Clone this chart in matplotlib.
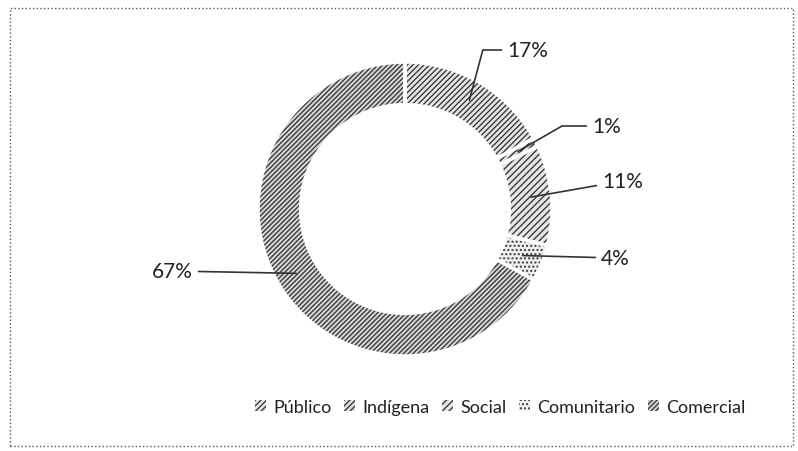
import numpy as np
import matplotlib.pyplot as plt
from matplotlib.patches import Rectangle

categorias = ['Público', 'Indígena', 'Social', 'Comunitario', 'Comercial']
porcentajes = [17, 1, 11, 4, 67]
etiquetas = ['17%', '1%', '11%', '4%', '67%']

colores = ['#e8e8e8', '#e0e0e0', '#e6e6e6', '#f0f0f0', '#d8d8d8']
tramas = ['//////', '//////', '/////', '....', '///////']
# posicion de los textos (pixeles, origen arriba-izquierda)
pos_txt = [(503, 51), (588, 127), (598, 182), (597, 259), (197, 272)]

plt.rcParams['font.family'] = ['Lato', 'DejaVu Sans']
plt.rcParams['hatch.linewidth'] = 1.0

H = 452
fig = plt.figure(figsize=(7.98, 4.52), dpi=100)
ax = fig.add_axes([0, 0, 1, 1])

cx, cy, R = 405, 210, 147
# capa con trama (el color de la trama sale del borde)
wedges, _ = ax.pie(porcentajes, center=(cx, H - cy), radius=R, startangle=90, counterclock=False,
                   colors=colores, wedgeprops=dict(width=R * 0.29, edgecolor='#3a3a3a', linewidth=0))
for w, h in zip(wedges, tramas):
    w.set_hatch(h)
# bordes blancos entre sectores
ax.pie(porcentajes, center=(cx, H - cy), radius=R, startangle=90, counterclock=False,
       colors=['none'] * 5, wedgeprops=dict(width=R * 0.29, edgecolor='white', linewidth=2.5))
ax.set_xlim(0, 798)
ax.set_ylim(0, H)
ax.set_aspect('equal')
ax.axis('off')

for i, (w, lab, (tx, ty)) in enumerate(zip(wedges, etiquetas, pos_txt)):
    ang = np.deg2rad((w.theta1 + w.theta2) / 2)
    r = R * 0.86
    px = cx + r * np.cos(ang)
    py = (H - cy) + r * np.sin(ang)
    ha = 'right' if i == 4 else 'left'
    off = -4 if i == 4 else 4
    cs = 'angle,angleA=0,angleB=75,rad=0' if i == 0 else 'angle,angleA=0,angleB=30,rad=0' if i == 1 else 'arc3'
    ax.annotate(lab, xy=(px, py), xytext=(tx + off, H - ty), ha=ha, va='center', fontsize=15,
                color='#222222',
                arrowprops=dict(arrowstyle='-', color='#333333', lw=1.2, shrinkA=2, shrinkB=0,
                                connectionstyle=cs))

fig.legend(wedges, categorias, loc='center', bbox_to_anchor=(0.627, 1 - 408 / H), ncol=5,
           frameon=False, fontsize=13, handlelength=0.6, handleheight=0.6, columnspacing=0.7,
           handletextpad=0.4, labelcolor='#222222')

fig.patches.append(Rectangle((10 / 798, 5 / H), 783 / 798, 438 / H, transform=fig.transFigure,
                             fill=False, edgecolor='#555555', linestyle=':', linewidth=1))

fig.savefig('out.png', dpi=100)
